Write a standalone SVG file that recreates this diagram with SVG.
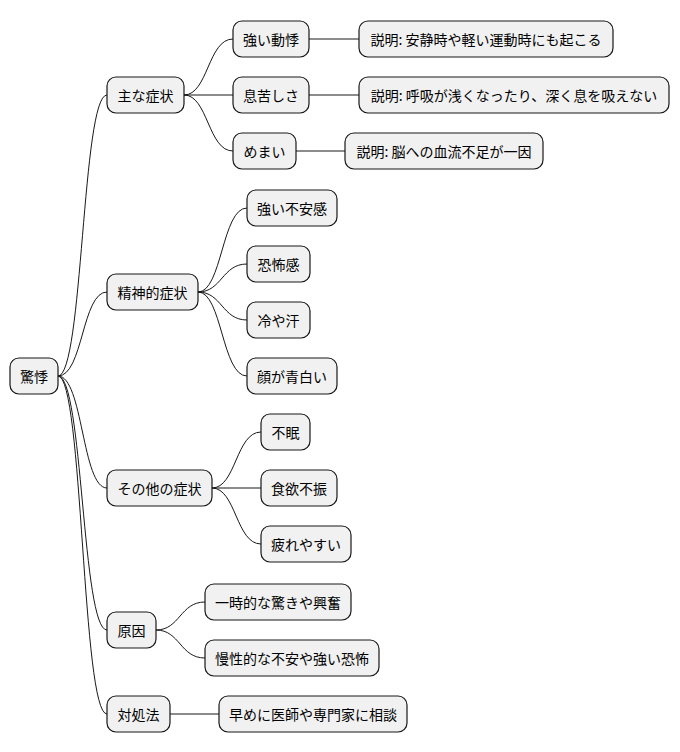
<svg xmlns="http://www.w3.org/2000/svg" width="680" height="752" viewBox="0 0 680 752">
<style>
.n rect{fill:#f1f1f1;stroke:#181818;stroke-width:1.2}
.n text{font-family:"Noto Sans CJK JP","Liberation Sans",sans-serif;font-size:14px;fill:#000;dominant-baseline:central}
#edges path{fill:none;stroke:#181818;stroke-width:1}
</style>
<rect width="680" height="752" fill="#fff"/>
<g id="edges">
<path d="M58 376 C83 376 82 95 107 95"/>
<path d="M58 376 C83 376 82 292 107 292"/>
<path d="M58 376 C83 376 82 488 107 488"/>
<path d="M58 376 C83 376 82 630 107 630"/>
<path d="M58 376 C83 376 82 714 107 714"/>
<path d="M184 95 C208 95 208 39 233 39"/>
<path d="M184 95 L233 95"/>
<path d="M184 95 C208 95 208 151 233 151"/>
<path d="M309 39 L359 39"/>
<path d="M309 95 L359 95"/>
<path d="M296 151 L345 151"/>
<path d="M198 292 C222 292 222 208 247 208"/>
<path d="M198 292 C222 292 222 264 247 264"/>
<path d="M198 292 C222 292 222 320 247 320"/>
<path d="M198 292 C222 292 222 376 247 376"/>
<path d="M212 488 C236 488 236 432 261 432"/>
<path d="M212 488 L261 488"/>
<path d="M212 488 C236 488 236 544 261 544"/>
<path d="M156 630 C180 630 180 602 205 602"/>
<path d="M156 630 C180 630 180 658 205 658"/>
<path d="M170 714 L219 714"/>
</g>
<g id="root" class="n"><rect x="10" y="358" width="48" height="36" rx="9"/><text x="34" y="376" text-anchor="middle">驚悸</text></g>
<g id="n1" class="n"><rect x="107" y="77" width="77" height="36" rx="9"/><text x="145.5" y="95" text-anchor="middle">主な症状</text></g>
<g id="n11" class="n"><rect x="233" y="21" width="76" height="36" rx="9"/><text x="271" y="39" text-anchor="middle">強い動悸</text></g>
<g id="n111" class="n"><rect x="359" y="21" width="254" height="36" rx="9"/><text x="486" y="39" text-anchor="middle">説明: 安静時や軽い運動時にも起こる</text></g>
<g id="n12" class="n"><rect x="233" y="77" width="76" height="36" rx="9"/><text x="271" y="95" text-anchor="middle">息苦しさ</text></g>
<g id="n121" class="n"><rect x="359" y="77" width="310" height="36" rx="9"/><text x="514" y="95" text-anchor="middle">説明: 呼吸が浅くなったり、深く息を吸えない</text></g>
<g id="n13" class="n"><rect x="233" y="133" width="63" height="36" rx="9"/><text x="264.5" y="151" text-anchor="middle">めまい</text></g>
<g id="n131" class="n"><rect x="345" y="133" width="198" height="36" rx="9"/><text x="444" y="151" text-anchor="middle">説明: 脳への血流不足が一因</text></g>
<g id="n2" class="n"><rect x="107" y="274" width="91" height="36" rx="9"/><text x="152.5" y="292" text-anchor="middle">精神的症状</text></g>
<g id="n21" class="n"><rect x="247" y="190" width="90" height="36" rx="9"/><text x="292" y="208" text-anchor="middle">強い不安感</text></g>
<g id="n22" class="n"><rect x="247" y="246" width="63" height="36" rx="9"/><text x="278.5" y="264" text-anchor="middle">恐怖感</text></g>
<g id="n23" class="n"><rect x="247" y="302" width="63" height="36" rx="9"/><text x="278.5" y="320" text-anchor="middle">冷や汗</text></g>
<g id="n24" class="n"><rect x="247" y="358" width="90" height="36" rx="9"/><text x="292" y="376" text-anchor="middle">顔が青白い</text></g>
<g id="n3" class="n"><rect x="107" y="470" width="105" height="36" rx="9"/><text x="159.5" y="488" text-anchor="middle">その他の症状</text></g>
<g id="n31" class="n"><rect x="261" y="414" width="49" height="36" rx="9"/><text x="285.5" y="432" text-anchor="middle">不眠</text></g>
<g id="n32" class="n"><rect x="261" y="470" width="76" height="36" rx="9"/><text x="299" y="488" text-anchor="middle">食欲不振</text></g>
<g id="n33" class="n"><rect x="261" y="526" width="90" height="36" rx="9"/><text x="306" y="544" text-anchor="middle">疲れやすい</text></g>
<g id="n4" class="n"><rect x="107" y="612" width="49" height="36" rx="9"/><text x="131.5" y="630" text-anchor="middle">原因</text></g>
<g id="n41" class="n"><rect x="205" y="584" width="146" height="36" rx="9"/><text x="278" y="602" text-anchor="middle">一時的な驚きや興奮</text></g>
<g id="n42" class="n"><rect x="205" y="640" width="174" height="36" rx="9"/><text x="292" y="658" text-anchor="middle">慢性的な不安や強い恐怖</text></g>
<g id="n5" class="n"><rect x="107" y="696" width="63" height="36" rx="9"/><text x="138.5" y="714" text-anchor="middle">対処法</text></g>
<g id="n51" class="n"><rect x="219" y="696" width="188" height="36" rx="9"/><text x="313" y="714" text-anchor="middle">早めに医師や専門家に相談</text></g>
</svg>
